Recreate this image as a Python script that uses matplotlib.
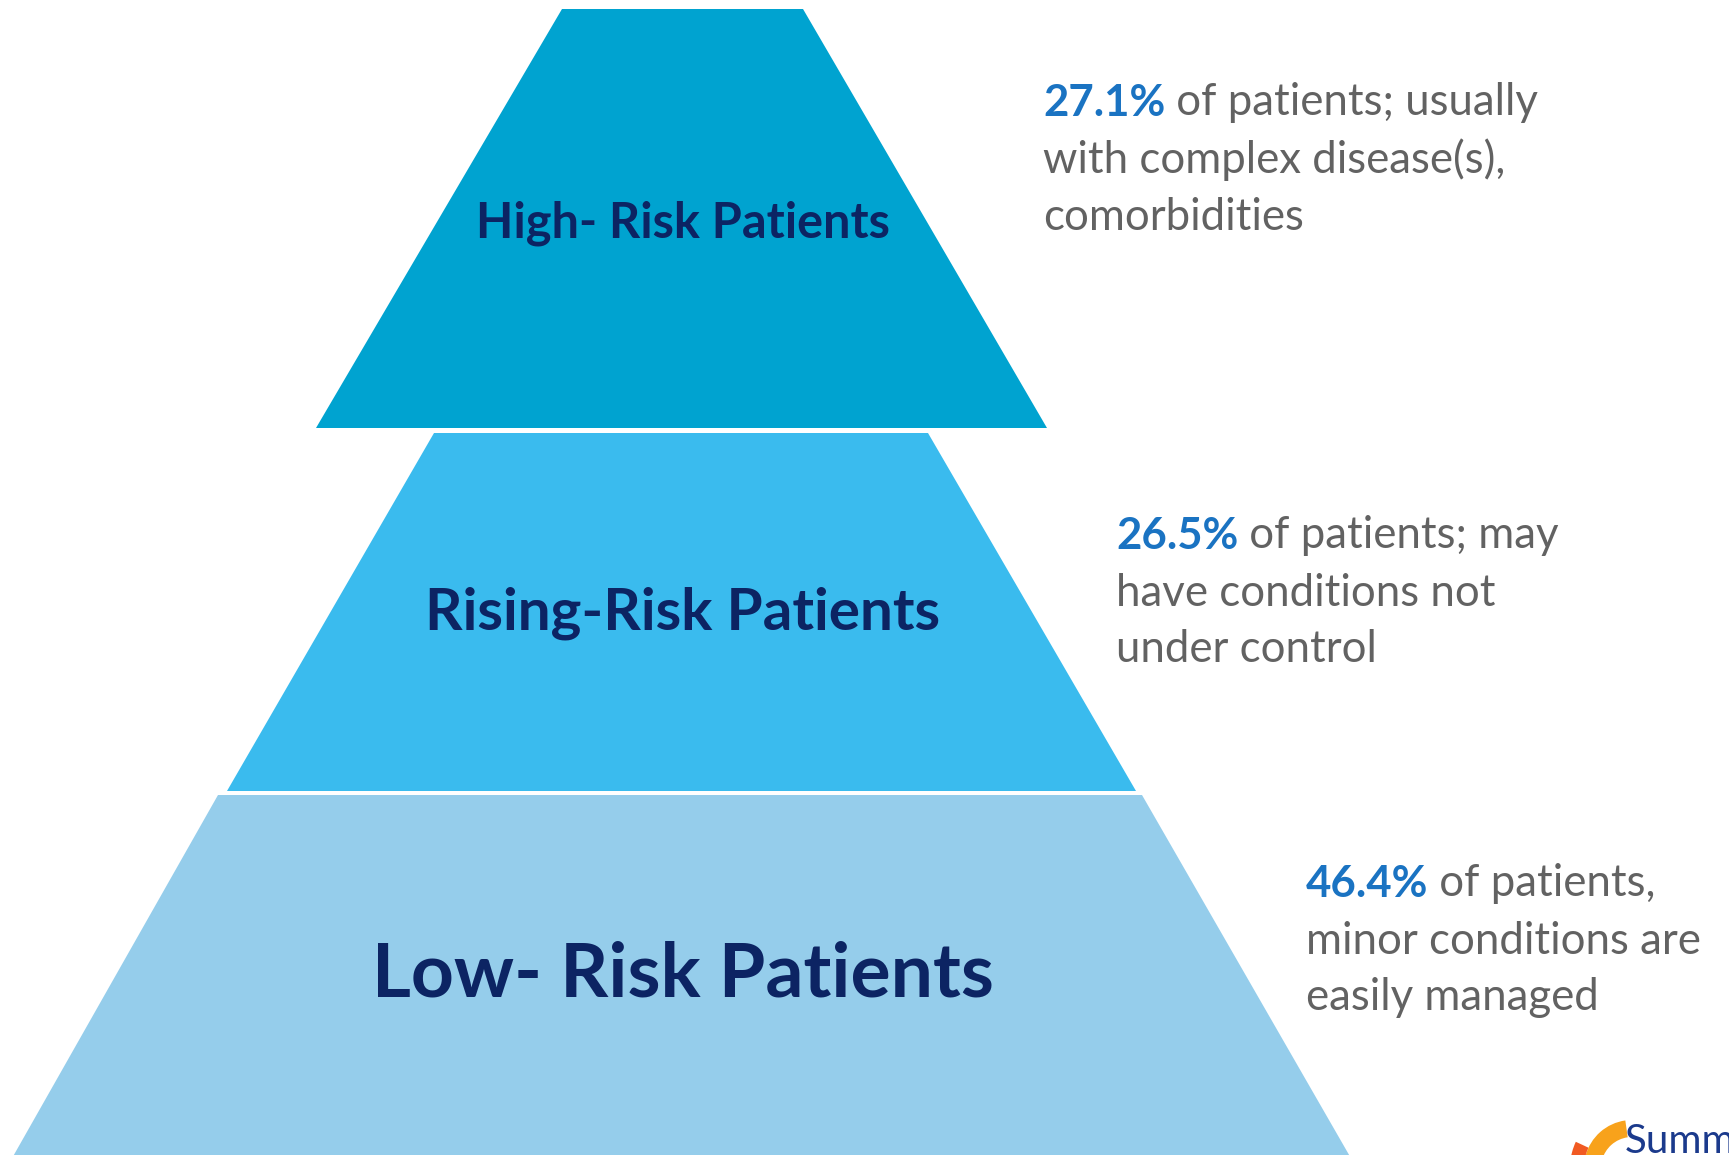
import matplotlib.pyplot as plt
from matplotlib.patches import Polygon, Wedge

# tiers, top to bottom
tiers = ['High- Risk Patients', 'Rising-Risk Patients', 'Low- Risk Patients']
shares = ['27.1%', '26.5%', '46.4%']
notes = [
    [' of patients; usually', 'with complex disease(s),', 'comorbidities'],
    [' of patients; may', 'have conditions not', 'under control'],
    [' of patients,', 'minor conditions are', 'easily managed'],
]
tier_colors = ['#00A3D0', '#3ABBEE', '#95CDEB']

# layout in pixels (y counts down from the top)
shape = [
    [(562, 9), (803, 9), (1047, 428), (316, 428)],
    [(434, 433), (928, 433), (1136, 791), (227, 791)],
    [(218, 795), (1142, 795), (1352, 1160), (11, 1160)],
]
label_y = [223, 613, 975]
label_size = [35, 42, 54]
note_x = [1043, 1116, 1306]
note_y = [103, 536, 884]
line_gap = 57
note_size = 31.5

plt.rcParams['font.family'] = ['Lato', 'DejaVu Sans']

fig = plt.figure(figsize=(17.29, 11.55), dpi=100)
ax = fig.add_axes([0, 0, 1, 1])
ax.set_xlim(0, 1729)
ax.set_ylim(1155, 0)
ax.axis('off')

for i in range(3):
    ax.add_patch(Polygon(shape[i], closed=True, facecolor=tier_colors[i], edgecolor='none'))
    ax.text(683, label_y[i], tiers[i], ha='center', va='center',
            fontsize=label_size[i], fontweight='bold', color='#0C2463')

    # bold blue share, then the grey remainder on the same line
    t = ax.text(note_x[i], note_y[i], shares[i], ha='left', va='center',
                fontsize=note_size, fontweight='bold', color='#1A73C2')
    ax.annotate(notes[i][0], xy=(1, 0), xycoords=t, ha='left', va='bottom',
                fontsize=note_size, color='#626262')
    for k in range(1, 3):
        ax.text(note_x[i], note_y[i] + k * line_gap, notes[i][k], ha='left', va='center',
                fontsize=note_size, color='#626262')

# logo in the corner (cut off by the edge, as in the original)
ax.add_patch(Wedge((1632, 1168), 48, 195, 262, width=17, facecolor='#F8A21B', edgecolor='none'))
ax.add_patch(Wedge((1632, 1168), 62, 185, 205, width=14, facecolor='#F15A22', edgecolor='none'))
ax.text(1625, 1153, 'Summ', ha='left', va='baseline', fontsize=29, color='#1B3A8C')

fig.savefig('out.png', dpi=100)
